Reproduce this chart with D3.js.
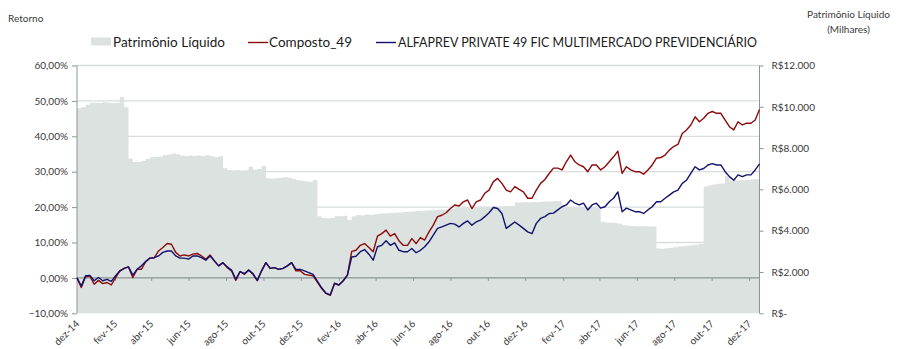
<!DOCTYPE html>
<html>
<head>
<meta charset="utf-8">
<script src="https://cdn.jsdelivr.net/npm/d3@7"></script>
<style>
  html, body { margin: 0; padding: 0; background: #ffffff; }
  svg { display: block; font-family: Lato, "Open Sans", sans-serif; }
</style>
</head>
<body>
<svg id="chart" width="906" height="349"></svg>
<script>
// Weekly observations starting on the first Monday of December 2014
const startDate = new Date(2014, 11, 1);
const pointCount = 160;

// Fund net assets (R$ thousands)
const patrimonio = [
  9930, 9980, 10100, 10200, 10200, 10180, 10220, 10200, 10180, 10200,
  10480, 9980, 7500, 7330, 7330, 7380, 7470, 7560, 7570, 7590,
  7650, 7690, 7740, 7700, 7640, 7620, 7640, 7620, 7640, 7620,
  7650, 7610, 7560, 7600, 7030, 6940, 6920, 6940, 6920, 6930,
  7100, 6950, 6990, 7150, 6540, 6520, 6540, 6560, 6590, 6560,
  6520, 6440, 6420, 6400, 6370, 6460, 4700, 4610, 4600, 4620,
  4700, 4700, 4720, 4520, 4700, 4760, 4740, 4780, 4760, 4800,
  4820, 4830, 4850, 4860, 4870, 4880, 4900, 4920, 4930, 4950,
  4940, 4980, 4990, 5000, 5010, 5020, 5040, 5060, 5100, 5120,
  5120, 5130, 5150, 5140, 5150, 5160, 5150, 5170, 5160, 5170,
  5180, 5200, 5370, 5360, 5380, 5370, 5390, 5380, 5400, 5420,
  5410, 5440, 5430, 5150, 5120, 5130, 5110, 5130, 5120, 5110,
  5130, 5120, 4430, 4400, 4380, 4370, 4340, 4260, 4240, 4230,
  4220, 4220, 4210, 4200, 4200, 3140, 3120, 3150, 3180, 3200,
  3230, 3250, 3280, 3300, 3320, 3350, 6140, 6200, 6240, 6270,
  6290, 6640, 6420, 6430, 6440, 6440, 6460, 6480, 6490, 6450
];

// Benchmark cumulative return (%)
const composto49 = [
  0.0, -2.7, 0.3, 0.5, -1.8, -0.7, -1.6, -1.3, -2.0, 0.1,
  2.0, 2.7, 3.1, 0.1, 2.4, 2.4, 4.6, 5.6, 5.7, 7.6,
  8.6, 9.7, 9.5, 7.2, 6.2, 6.5, 6.2, 6.7, 6.9, 6.2,
  5.3, 6.5, 4.8, 3.4, 4.3, 2.9, 2.0, -0.7, 1.8, 1.0,
  2.2, 1.0, -0.8, 2.0, 4.3, 2.7, 2.9, 2.4, 2.7, 3.4,
  4.3, 2.0, 2.0, 1.0, 0.8, 0.6, -1.2, -3.0, -4.4, -4.9,
  -1.6, -2.0, -0.9, 0.8, 7.5, 7.8, 9.2, 9.7, 8.6, 7.4,
  11.8, 12.5, 13.5, 11.8, 12.5, 10.5, 9.2, 9.2, 11.1, 9.7,
  11.4, 10.7, 13.0, 14.9, 17.3, 17.7, 18.4, 19.6, 20.6, 20.3,
  21.5, 22.0, 19.6, 21.5, 22.0, 23.9, 24.8, 27.2, 28.1, 26.7,
  24.8, 24.3, 25.8, 25.0, 24.3, 22.5, 22.5, 24.8, 26.7, 27.8,
  29.5, 31.0, 31.0, 30.5, 32.8, 34.7, 32.8, 31.9, 31.4, 30.0,
  31.9, 31.9, 30.5, 31.4, 32.8, 34.2, 35.8, 29.5, 31.4, 30.5,
  30.0, 30.0, 29.3, 30.5, 31.9, 33.8, 34.0, 34.7, 36.1, 37.1,
  37.7, 40.8, 41.8, 43.2, 45.5, 44.1, 45.1, 46.5, 47.0, 46.5,
  46.5, 44.6, 42.7, 41.8, 44.1, 43.2, 43.7, 43.7, 44.6, 47.6
];

// Fund cumulative return (%)
const alfaprev = [
  0.0, -2.3, 0.6, 0.7, -0.8, 0.1, -0.8, -0.4, -1.0, 0.6,
  2.0, 2.7, 3.1, 0.8, 2.4, 3.4, 4.6, 5.6, 5.7, 6.2,
  7.2, 7.6, 7.6, 6.2, 5.6, 5.6, 5.3, 6.2, 6.2, 5.7,
  5.0, 6.2, 4.8, 3.4, 4.3, 3.1, 2.2, -0.4, 1.8, 1.2,
  2.2, 1.2, -0.7, 2.0, 4.3, 2.7, 2.9, 2.4, 2.7, 3.4,
  4.3, 2.4, 2.4, 2.0, 1.5, 1.0, -0.9, -2.8, -4.3, -4.8,
  -1.5, -2.0, -0.8, 0.8, 5.9, 6.1, 7.4, 8.0, 6.7, 5.0,
  8.8, 9.2, 10.5, 9.2, 9.9, 7.8, 7.4, 7.4, 8.3, 7.1,
  7.8, 8.8, 10.2, 12.1, 14.0, 14.4, 14.9, 15.4, 15.2, 14.4,
  15.4, 16.1, 14.9, 15.8, 16.3, 17.3, 18.4, 19.9, 19.6, 18.2,
  14.0, 14.9, 15.8, 14.9, 14.0, 13.0, 12.5, 15.4, 16.8, 17.3,
  18.2, 18.3, 19.2, 20.1, 20.6, 22.0, 21.1, 20.6, 21.1, 19.2,
  20.6, 21.1, 19.7, 20.1, 21.5, 22.5, 24.3, 18.7, 19.7, 19.2,
  18.7, 18.7, 18.2, 19.2, 20.1, 21.5, 21.5, 22.5, 23.4, 24.3,
  24.8, 26.7, 27.6, 29.5, 31.4, 30.5, 30.9, 31.9, 32.3, 31.9,
  31.9, 30.0, 28.6, 27.6, 29.1, 28.6, 29.1, 29.1, 30.5, 32.2
];

// Axis ticks and labels
const leftTicks = [-10, 0, 10, 20, 30, 40, 50, 60];
const rightTicks = [0, 2000, 4000, 6000, 8000, 10000, 12000];
const monthLabels = ["dez-14", "fev-15", "abr-15", "jun-15", "ago-15", "out-15", "dez-15",
  "fev-16", "abr-16", "jun-16", "ago-16", "out-16", "dez-16",
  "fev-17", "abr-17", "jun-17", "ago-17", "out-17", "dez-17"];

const seriesNames = ["Patrimônio Líquido", "Composto_49", "ALFAPREV PRIVATE 49 FIC MULTIMERCADO PREVIDENCIÁRIO"];

const dates = d3.range(pointCount).map(i => d3.timeDay.offset(startDate, i * 7));
const tickDates = monthLabels.map((_, i) => d3.timeMonth.offset(startDate, i * 2));

const colors = {
  area: "#dce2e0",
  red: "#8b0a0a",
  blue: "#12126e",
  axis: "#8a9694",
  grid: "#d8dddc",
  text: "#3a3a3a"
};

const plot = { left: 77, right: 759.5, top: 65.5, bottom: 313.3 };

const svg = d3.select("#chart");

const x = d3.scaleTime()
  .domain([startDate, dates[dates.length - 1]])
  .range([plot.left, plot.right]);
const yL = d3.scaleLinear().domain([-10, 60]).range([plot.bottom, plot.top]);
const yR = d3.scaleLinear().domain([0, 12000]).range([plot.bottom, plot.top]);

const br = d3.formatLocale({ decimal: ",", thousands: ".", grouping: [3], currency: ["R$", ""] });
const pctFmt = v => br.format(".2f")(v) + "%";
const brlFmt = v => v === 0 ? "R$-" : "R$" + br.format(",")(v);

// Horizontal gridlines (behind the area)
svg.append("g")
  .selectAll("line")
  .data(leftTicks.filter(t => t > 0))
  .join("line")
  .attr("x1", plot.left).attr("x2", plot.right)
  .attr("y1", d => yL(d)).attr("y2", d => yL(d))
  .attr("stroke", colors.grid)
  .attr("stroke-width", 1.3);

// Net assets area on the right axis
svg.append("path")
  .datum(patrimonio)
  .attr("fill", colors.area)
  .attr("d", d3.area()
    .x((d, i) => x(dates[i]))
    .y0(yR(0))
    .y1(d => yR(d))
    .curve(d3.curveStepAfter));

// Zero line with bimonthly ticks
const zeroAxis = d3.axisBottom(x)
  .tickValues(tickDates)
  .tickSize(3)
  .tickFormat("");
const zg = svg.append("g")
  .attr("transform", `translate(0,${yL(0)})`)
  .call(zeroAxis);
zg.select(".domain").attr("stroke", colors.axis).attr("stroke-width", 1.2)
  .attr("d", `M${plot.left},0H${plot.right}`);
zg.selectAll(".tick line").attr("stroke", colors.axis);

// Rotated month labels along the bottom
svg.append("g")
  .selectAll("text")
  .data(tickDates)
  .join("text")
  .attr("transform", d => `translate(${x(d) + 3},${plot.bottom + 11}) rotate(-45)`)
  .attr("text-anchor", "end")
  .attr("font-size", 10)
  .attr("fill", colors.text)
  .text((d, i) => monthLabels[i]);

// Left axis (returns)
const lg = svg.append("g")
  .attr("transform", `translate(${plot.left},0)`)
  .call(d3.axisLeft(yL).tickValues(leftTicks).tickSize(5).tickPadding(4).tickFormat(pctFmt));
lg.select(".domain").attr("stroke", colors.axis).attr("d", `M0,${plot.top}V${plot.bottom}`);
lg.selectAll(".tick line").attr("stroke", colors.axis);
lg.selectAll(".tick text").attr("fill", colors.text).attr("font-size", 10)
  .attr("font-family", "Lato, sans-serif");

// Right axis (net assets)
const rg = svg.append("g")
  .attr("transform", `translate(${plot.right},0)`)
  .call(d3.axisRight(yR).tickValues(rightTicks).tickSize(4).tickPadding(8).tickFormat(brlFmt));
rg.select(".domain").attr("stroke", colors.axis).attr("d", `M0,${plot.top}V${plot.bottom}`);
rg.selectAll(".tick line").attr("stroke", colors.axis);
rg.selectAll(".tick text").attr("fill", colors.text).attr("font-size", 10)
  .attr("font-family", "Lato, sans-serif");

// Return lines: benchmark first, fund on top
const lineGen = d3.line()
  .x((d, i) => x(dates[i]))
  .y(d => yL(d));

svg.append("path")
  .datum(composto49)
  .attr("fill", "none")
  .attr("stroke", colors.red)
  .attr("stroke-width", 1.4)
  .attr("stroke-linejoin", "round")
  .attr("d", lineGen);

svg.append("path")
  .datum(alfaprev)
  .attr("fill", "none")
  .attr("stroke", colors.blue)
  .attr("stroke-width", 1.4)
  .attr("stroke-linejoin", "round")
  .attr("d", lineGen);

// Axis titles
svg.append("text")
  .attr("x", 8).attr("y", 21.5)
  .attr("font-size", 10).attr("fill", colors.text)
  .text("Retorno");

svg.append("text")
  .attr("x", 848.5).attr("y", 17.5)
  .attr("text-anchor", "middle")
  .attr("font-size", 10).attr("fill", colors.text)
  .text("Patrimônio Líquido");
svg.append("text")
  .attr("x", 848.5).attr("y", 32.5)
  .attr("text-anchor", "middle")
  .attr("font-size", 10).attr("fill", colors.text)
  .text("(Milhares)");

// Legend
const legend = svg.append("g").attr("font-size", 13).attr("fill", "#1a1a1a");
legend.append("rect")
  .attr("x", 91).attr("y", 37.5).attr("width", 20).attr("height", 8)
  .attr("fill", colors.area);
legend.append("text").attr("x", 113).attr("y", 46.5)
  .attr("textLength", 112).attr("lengthAdjust", "spacingAndGlyphs")
  .text(seriesNames[0]);

legend.append("line")
  .attr("x1", 248).attr("x2", 268).attr("y1", 42.5).attr("y2", 42.5)
  .attr("stroke", colors.red).attr("stroke-width", 1.4);
legend.append("text").attr("x", 269).attr("y", 46.5)
  .attr("textLength", 83).attr("lengthAdjust", "spacingAndGlyphs")
  .text(seriesNames[1]);

legend.append("line")
  .attr("x1", 376).attr("x2", 396).attr("y1", 42.5).attr("y2", 42.5)
  .attr("stroke", colors.blue).attr("stroke-width", 1.4);
legend.append("text").attr("x", 398).attr("y", 46.5)
  .attr("textLength", 359).attr("lengthAdjust", "spacingAndGlyphs")
  .text(seriesNames[2]);
</script>
</body>
</html>
